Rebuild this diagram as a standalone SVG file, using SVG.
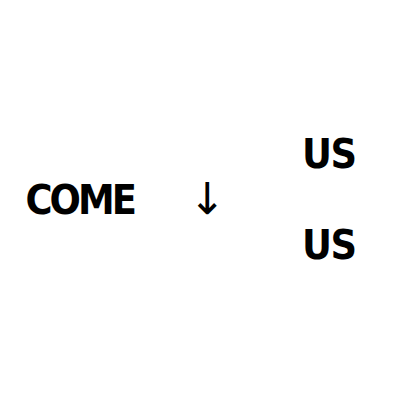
<svg xmlns="http://www.w3.org/2000/svg" width="400" height="400" viewBox="0 0 400 400">
<style>
.t{font-family:"DejaVu Sans Condensed","DejaVu Sans",sans-serif;font-stretch:condensed;font-weight:bold;font-size:41px;fill:#000}
.a{font-family:"DejaVu Sans",sans-serif;font-size:44px;fill:#000}
</style>
<rect width="400" height="400" fill="#fff"/>
<g id="come"><text class="t" x="25.5" y="213.5" letter-spacing="-3">COME</text></g>
<g id="arrow"><text class="a" x="189" y="214">↓</text></g>
<g id="us1"><text class="t" x="302" y="167.5" letter-spacing="-1.5">US</text></g>
<g id="us2"><text class="t" x="302" y="259" letter-spacing="-1.5">US</text></g>
</svg>
